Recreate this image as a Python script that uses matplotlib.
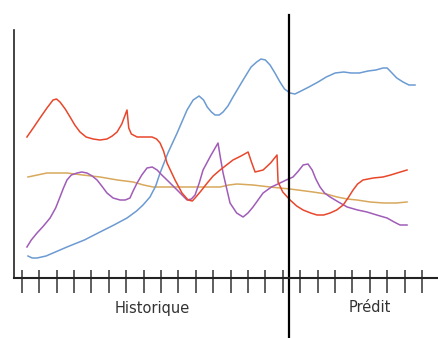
import matplotlib
matplotlib.use("Agg")
import matplotlib.pyplot as plt

# x in tick units (tick k at x = k), y arbitrary value units
blue_x = [0.36, 0.60, 0.88, 1.40, 2.60, 3.60, 4.50, 5.30, 6.05, 6.60, 6.97, 7.37, 7.70, 7.95, 8.40,
          8.93, 9.50, 9.85, 10.19, 10.45, 10.66, 10.90, 11.11, 11.35, 11.57, 11.85, 12.14, 12.72,
          13.18, 13.50, 13.75, 14.00, 14.27, 14.55, 14.84, 15.10, 15.42, 15.70, 16.05, 16.50,
          17.03, 17.50, 18.01, 18.50, 18.93, 19.40, 19.90, 20.35, 20.76, 21.00, 21.22, 21.55,
          21.91, 22.25, 22.60]
blue_y = [22, 20, 20, 22, 31, 38, 46, 53, 60, 67, 73, 81, 92, 105, 125,
          145, 168, 178, 182, 178, 171, 166, 163, 163, 166, 172, 181, 198,
          211, 216, 219, 218, 213, 205, 196, 189, 185, 184, 187, 191,
          196, 201, 205, 206, 205, 205, 207, 208, 210, 210, 206, 200,
          196, 193, 193]

red_x = [0.30, 0.70, 1.05, 1.45, 1.80, 2.00, 2.20, 2.50, 2.78, 3.05, 3.35, 3.70, 4.10, 4.50, 4.90,
         5.20, 5.48, 5.75, 6.05, 6.15, 6.30, 6.63, 7.00, 7.49, 7.75, 7.95, 8.15, 8.35, 8.81, 9.21,
         9.56, 9.80, 9.96, 10.30, 10.66, 11.00, 11.40, 12.14, 12.60, 13.01, 13.20, 13.41, 13.87,
         14.30, 14.67, 14.73, 15.00, 15.42, 15.80, 16.17, 16.60, 16.97, 17.35, 17.72, 18.10,
         18.47, 18.75, 19.04, 19.30, 19.61, 20.20, 20.76, 21.20, 21.57, 22.14]
red_y = [141, 151, 160, 170, 178, 179, 176, 169, 161, 153, 146, 141, 139, 138, 139,
         142, 146, 154, 168, 150, 144, 141, 141, 141, 139, 135, 127, 115, 98, 85,
         78, 77, 80, 87, 95, 102, 108, 118, 122, 126, 116, 106, 108,
         115, 123, 96, 86, 78, 72, 68, 65, 63, 63, 65, 68,
         73, 80, 88, 94, 98, 100, 101, 103, 105, 108]

orange_x = [0.36, 0.90, 1.45, 2.00, 2.60, 3.50, 4.50, 5.50, 6.40, 7.00, 7.55, 8.50, 9.50, 10.50,
            11.40, 11.90, 12.37, 13.29, 14.27, 15.42, 16.74, 17.50, 18.12, 18.70, 19.27, 20.02,
            20.80, 21.50, 22.14]
orange_y = [101, 103, 105, 105, 105, 103, 101, 98, 96, 93, 91, 91, 91, 91,
            91, 93, 94, 93, 91, 89, 86, 84, 81, 79, 78, 76,
            75, 75, 76]

purple_x = [0.30, 0.55, 0.88, 1.25, 1.63, 1.95, 2.20, 2.40, 2.60, 2.85, 3.18, 3.45, 3.75, 4.05,
            4.33, 4.60, 4.90, 5.25, 5.65, 5.95, 6.22, 6.40, 6.63, 6.90, 7.20, 7.50, 7.78, 8.05,
            8.35, 8.93, 9.50, 9.75, 9.96, 10.20, 10.42, 10.85, 11.28, 11.42, 11.57, 11.97, 12.35,
            12.72, 13.00, 13.29, 13.87, 14.35, 14.84, 15.20, 15.59, 15.90, 16.17, 16.45, 16.69,
            16.90, 17.14, 17.40, 17.72, 18.20, 18.70, 19.30, 19.84, 20.40, 20.99, 21.40, 21.74,
            22.14]
purple_y = [31, 38, 45, 52, 60, 70, 81, 90, 98, 103, 105, 106, 105, 102,
            98, 92, 85, 80, 78, 78, 80, 87, 95, 103, 110, 111, 108, 103,
            98, 88, 78, 79, 83, 95, 108, 122, 135, 120, 105, 75, 65,
            61, 65, 71, 85, 91, 95, 98, 101, 107, 113, 114, 108,
            99, 91, 85, 81, 76, 71, 68, 66, 63, 60, 56, 53,
            53]

tick_positions = list(range(24))
split_x = 15.36
labels = ["Historique", "Prédit"]
label_x = [7.49, 20.02]

fig = plt.figure(figsize=(4.38, 3.38), dpi=100)
ax = fig.add_axes([14 / 438, 1 - 278 / 338, 1 - 14 / 438, 248 / 338])
ax.set_xlim(-0.443, 23.92)
ax.set_ylim(0, 248)

lw = 1.1
ax.plot(orange_x, orange_y, color="#d8a85c", lw=lw, solid_joinstyle="round")
ax.plot(blue_x, blue_y, color="#6b9bd2", lw=lw, solid_joinstyle="round")
ax.plot(purple_x, purple_y, color="#a05cb8", lw=lw, solid_joinstyle="round")
ax.plot(red_x, red_y, color="#e8472c", lw=lw, solid_joinstyle="round")

for s in ["top", "right"]:
    ax.spines[s].set_visible(False)
ax.spines["left"].set_linewidth(1.2)
ax.spines["bottom"].set_linewidth(1.5)
ax.spines["left"].set_color("#222222")
ax.spines["bottom"].set_color("#222222")

ax.set_yticks([])
ax.set_xticks(tick_positions)
ax.set_xticks(tick_positions, minor=True)
ax.xaxis.remove_overlapping_locs = False
ax.tick_params(axis="x", which="major", direction="out", length=10.8, width=1.1,
               color="#333333", labelbottom=False)
ax.tick_params(axis="x", which="minor", direction="in", length=5.8, width=1.1,
               color="#333333")

ax.axvline(split_x, ymin=-0.25, ymax=1.06, color="black", lw=1.6, clip_on=False)

for lab, lx in zip(labels, label_x):
    ax.text(lx, -30, lab, ha="center", va="center", fontsize=10.5, color="#333333",
            clip_on=False)

fig.savefig("out.png", dpi=100)
